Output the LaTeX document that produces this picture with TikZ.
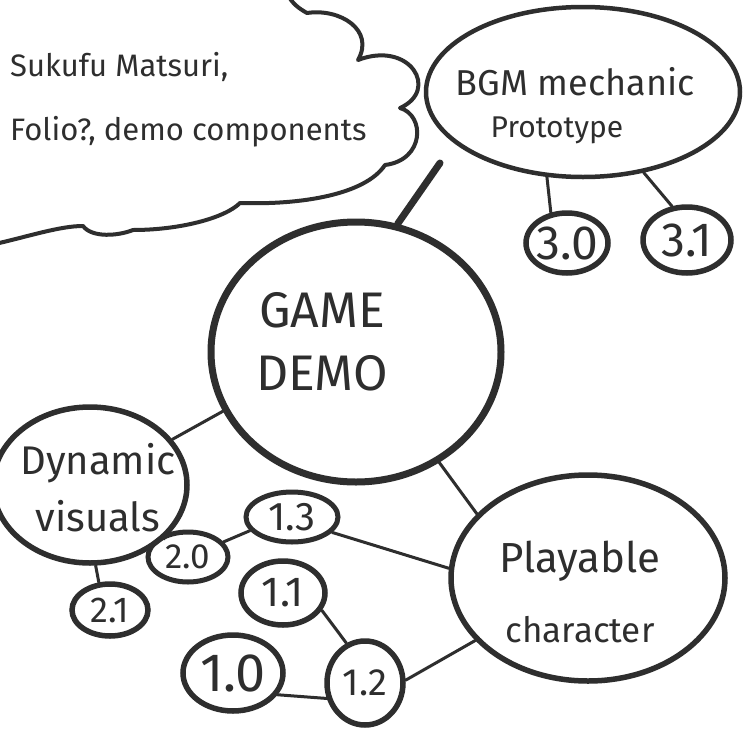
\documentclass[tikz,border=0pt]{standalone}
\usepackage{fontspec}
\setmainfont{Fira Sans}
\usetikzlibrary{shapes.geometric}
\definecolor{ink}{HTML}{2E2E2E}
\begin{document}
\begin{tikzpicture}[x=1pt,y=-1pt,
  bubble/.style={ellipse, draw=ink, line width=4.5pt, inner sep=0pt},
  link/.style={draw=ink, line width=3pt, line cap=round},
  lbl/.style={text=ink, align=center, inner sep=0pt},
  outline/.style={draw=ink, line width=4pt, line cap=round, line join=round}]
\useasboundingbox[fill=white] (0,0) rectangle (750,750);

% cloud
\draw[outline] (-5,244) .. controls (30,236) and (60,226) .. (83,226)
  .. controls (92,238) and (118,236) .. (133,230)
  .. controls (180,230) and (225,218) .. (240,203)
  .. controls (300,205) and (365,195) .. (385,165)
  .. controls (425,160) and (425,115) .. (400,108)
  .. controls (440,90) and (410,40) .. (358,60)
  .. controls (375,30) and (340,8) .. (307,13)
  .. controls (298,8) and (292,3) .. (288,-5);
\node[lbl, anchor=west, align=left, font=\fontsize{31}{64}\selectfont] (cloudtext) at (10,100)
  {Sukufu Matsuri,\\Folio?, demo components};

% nodes
\node[bubble, minimum width=314pt, minimum height=170pt] (bgm) at (583,92) {};
\node[lbl, font=\fontsize{36}{42}\selectfont] (bgmtext) at (575,106) {BGM mechanic\\{\fontsize{30}{30}\selectfont Prototype\hspace*{36pt}}};
\node[bubble, line width=5.5pt, minimum width=82pt, minimum height=60pt] (b30) at (567,243) {};
\node[lbl, font=\fontsize{48}{48}\selectfont] at (b30) {3.0};
\node[bubble, line width=5.5pt, minimum width=88pt, minimum height=66pt] (b31) at (687,240) {};
\node[lbl, font=\fontsize{48}{48}\selectfont] at (b31) {3.1};

\node[bubble, line width=7pt, minimum width=290pt, minimum height=260pt] (demo) at (356,352) {};
\node[lbl, font=\fontsize{50}{63}\selectfont] (demotext) at (322,342) {GAME\\DEMO};

\node[bubble, line width=5.5pt, minimum width=194pt, minimum height=156pt] (dyn) at (90,485) {};
\node[lbl, font=\fontsize{40}{57}\selectfont] (dyntext) at (98,488) {Dynamic\\visuals};

\node[bubble, line width=5pt, minimum width=80pt, minimum height=50pt] (b20) at (188,557) {};
\node[lbl, font=\fontsize{35}{35}\selectfont] at (b20) {2.0};
\node[bubble, line width=5.5pt, minimum width=76pt, minimum height=52pt] (b21) at (110,610) {};
\node[lbl, font=\fontsize{36}{36}\selectfont] at (b21) {2.1};
\node[bubble, line width=5pt, minimum width=92pt, minimum height=50pt] (b13) at (292,517) {};
\node[lbl, font=\fontsize{40}{40}\selectfont] at (b13) {1.3};
\node[bubble, line width=5.5pt, minimum width=84pt, minimum height=64pt] (b11) at (283,593) {};
\node[lbl, font=\fontsize{42}{42}\selectfont] at (b11) {1.1};
\node[bubble, line width=5.5pt, minimum width=100pt, minimum height=76pt] (b10) at (233,673) {};
\node[lbl, font=\fontsize{54}{54}\selectfont] at (b10) {1.0};
\node[bubble, line width=5.5pt, minimum width=76pt, minimum height=84pt] (b12) at (365,683) {};
\node[lbl, font=\fontsize{38}{38}\selectfont] at (b12) {1.2};

\node[bubble, line width=5.5pt, minimum width=274pt, minimum height=206pt] (play) at (588,578) {};
\node[lbl, font=\fontsize{42}{70}\selectfont] (playtext) at (580,592) {Playable\\{\fontsize{35}{35}\selectfont character}};

% connectors
\coordinate (cloudend) at (440,163);
\draw[link, line width=7pt] (demo.72) -- (cloudend);
\draw[link] (bgm.-113) -- (b30.118);
\draw[link] (bgm.-53) -- (b31.114);
\draw[link] (dyn.29) -- (demo.204);
\draw[link] (dyn.-36) -- (b20.140);
\draw[link] (dyn.-86) -- (b21.112);
\draw[link] (b20.23) -- (b13.198);
\draw[link] (b13.-21) -- (play.176);
\draw[link] (b11.-24) -- (b12.115);
\draw[link] (b10.-26) -- (b12.202);
\draw[link] (b12.4) -- (play.209);
\draw[link] (demo.-53) -- (play.150);
\end{tikzpicture}
\end{document}
